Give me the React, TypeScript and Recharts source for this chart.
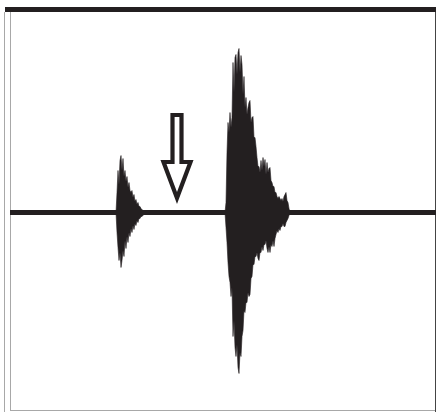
import React from "react";
import { ComposedChart, Area, XAxis, YAxis, ReferenceLine, ReferenceDot } from "recharts";

// Time (arbitrary units along the trace)
const times = [
  116, 117, 118, 119, 120, 121, 122, 123, 124, 125, 126, 127, 128, 129, 130, 131, 132, 133, 134, 135, 136, 137, 138, 139, 140, 141, 142, 143, 144,
  225, 226, 227, 228, 229, 230, 231, 232, 233, 234, 235, 236, 237, 238, 239, 240, 241, 242, 243, 244, 245, 246, 247, 248, 249, 250,
  251, 252, 253, 254, 255, 256, 257, 258, 259, 260, 261, 262, 263, 264, 265, 266, 267, 268, 269, 270, 271, 272, 273, 274, 275,
  276, 277, 278, 279, 280, 281, 282, 283, 284, 285, 286, 287, 288, 289, 290,
];
// Upper envelope of the waveform
const upper = [
  0, 20, 42, 28, 52, 57, 42, 54, 36, 42, 31, 36, 25, 30, 22, 20, 22, 15, 18, 11, 13, 8, 10, 6, 6, 4, 3, 2, 0,
  0, 10, 60, 90, 80, 100, 85, 95, 150, 120, 155, 158, 138, 160, 164, 140, 157, 148, 118, 136, 105, 115, 98, 105, 110, 112,
  90, 95, 96, 75, 75, 66, 55, 46, 46, 40, 52, 42, 55, 46, 53, 38, 50, 40, 44, 45, 32, 30, 26, 26, 20,
  20, 16, 14, 16, 14, 12, 14, 11, 16, 18, 20, 12, 10, 4, 0,
];
// Lower envelope of the waveform
const lower = [
  0, -20, -35, -48, -40, -55, -48, -38, -44, -28, -36, -24, -30, -20, -24, -16, -20, -13, -17, -11, -13, -8, -10, -6, -6, -4, -4, -3, 0,
  0, -15, -30, -50, -64, -70, -84, -75, -124, -108, -135, -144, -132, -155, -161, -140, -144, -124, -118, -98, -100, -90, -90, -80, -84, -82,
  -66, -64, -52, -52, -44, -44, -40, -46, -48, -40, -40, -34, -38, -32, -32, -28, -36, -40, -34, -40, -32, -34, -28, -34, -26,
  -22, -18, -20, -16, -18, -14, -14, -11, -14, -14, -10, -8, -6, -3, 0,
];

const data = times.map((t, i) => ({ t, range: [lower[i], upper[i]] }));

const INK = "#231f20";
const GRAY = "#a8a8a8";

const ArrowShape = (props: any) => {
  const { cx, cy } = props;
  const d = [
    `M ${cx - 4.5} ${cy - 83}`,
    `L ${cx + 4.5} ${cy - 83}`,
    `L ${cx + 4.5} ${cy - 36}`,
    `L ${cx + 13.5} ${cy - 36}`,
    `L ${cx} ${cy}`,
    `L ${cx - 13.5} ${cy - 36}`,
    `L ${cx - 4.5} ${cy - 36}`,
    "Z",
  ].join(" ");
  return <path d={d} fill="#ffffff" stroke={INK} strokeWidth={4.2} strokeLinejoin="miter" strokeMiterlimit={10} />;
};

export default function App() {
  return (
    <div style={{ position: "absolute", left: 0, top: 0, width: 436, height: 412, background: "#fff" }}>
      <ComposedChart width={436} height={412} data={data} margin={{ top: 0, right: 0, bottom: 0, left: 0 }}>
        <XAxis dataKey="t" type="number" domain={[0, 436]} hide />
        <YAxis type="number" domain={[-199.5, 212.5]} hide allowDataOverflow />
        {/* frame */}
        <ReferenceLine segment={[{ x: 4.5, y: 200.5 }, { x: 4.5, y: -199.5 }]} stroke={GRAY} strokeWidth={1} />
        <ReferenceLine segment={[{ x: 10.5, y: 200.5 }, { x: 10.5, y: -198 }]} stroke={GRAY} strokeWidth={1} />
        <ReferenceLine segment={[{ x: 10, y: -198 }, { x: 436, y: -198 }]} stroke={GRAY} strokeWidth={1} />
        <ReferenceLine segment={[{ x: 435.5, y: 205 }, { x: 435.5, y: -199.5 }]} stroke="#444" strokeWidth={1} />
        <ReferenceLine segment={[{ x: 5, y: 203 }, { x: 436, y: 203 }]} stroke={INK} strokeWidth={5} />
        {/* baseline */}
        <ReferenceLine segment={[{ x: 10, y: 0 }, { x: 436, y: 0 }]} stroke={INK} strokeWidth={5} />
        <Area
          type="linear"
          dataKey="range"
          fill={INK}
          fillOpacity={1}
          stroke={INK}
          strokeWidth={0.6}
          isAnimationActive={false}
          dot={false}
          activeDot={false}
        />
        <ReferenceDot x={177} y={14.5} r={0} shape={ArrowShape} />
      </ComposedChart>
    </div>
  );
}
